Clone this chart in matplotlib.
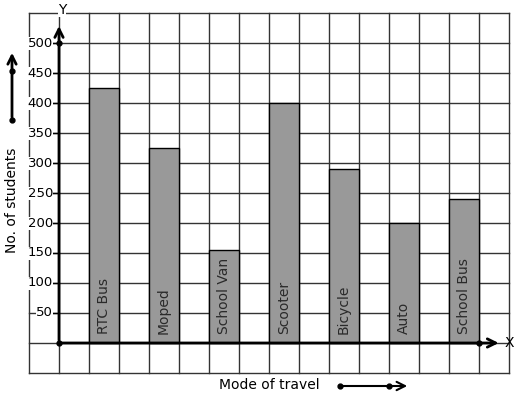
import matplotlib.pyplot as plt
import numpy as np

modes = ["RTC Bus", "Moped", "School Van", "Scooter", "Bicycle", "Auto", "School Bus"]
students = [425, 325, 155, 400, 290, 200, 240]
yticks = [50, 100, 150, 200, 250, 300, 350, 400, 450, 500]

W, H = 517, 399
fig = plt.figure(figsize=(W / 100, H / 100), dpi=100)
ax = fig.add_axes([0, 0, 1, 1])
ax.set_xlim(-59 / 30, (W - 59) / 30)
ax.set_ylim(-56 / 0.6, 343 / 0.6)
ax.axis("off")


def px(x, y):
    # pixel (top-left origin) -> figure fraction
    return (x / W, 1 - y / H)


# graph paper grid
for gx in range(-1, 16):
    ax.plot([gx, gx], [-50, 550], color="#333333", lw=1, zorder=1)
for gy in range(-50, 551, 50):
    ax.plot([-1, 15], [gy, gy], color="#333333", lw=1, zorder=1)

# bars
xpos = np.arange(len(modes)) * 2 + 1.5
ax.bar(xpos, students, width=1, color="#999999", edgecolor="black", lw=1, zorder=2)
for x, name in zip(xpos, modes):
    ax.text(x, 15, name, rotation=90, ha="center", va="bottom", fontsize=10,
            color="#2a2a2a", zorder=3)

# axes with arrows
ax.annotate("", xy=(0, 533), xytext=(0, 0),
            arrowprops=dict(arrowstyle="->", lw=2, color="black", mutation_scale=15), zorder=4)
ax.annotate("", xy=(14.75, 0), xytext=(0, 0),
            arrowprops=dict(arrowstyle="->", lw=2, color="black", mutation_scale=15), zorder=4)
ax.plot([0, 0, 14], [0, 500, 0], "o", color="black", ms=3.5, zorder=5)
ax.text(0.1, 555, "Y", ha="center", va="center", fontsize=10, zorder=5,
        bbox=dict(facecolor="white", edgecolor="none", pad=0))
ax.text(15.0, 0, "X", ha="center", va="center", fontsize=10, zorder=5)

# y tick labels
for t in yticks:
    ax.plot([-0.2, 0], [t, t], color="black", lw=1, zorder=4)
    ax.text(-0.2, t, str(t), ha="right", va="center", fontsize=9.5, zorder=4,
            bbox=dict(facecolor="white", edgecolor="none", pad=0))

# left label with arrow
fig.text(*px(12, 200), "No. of students", rotation=90, ha="center", va="center", fontsize=10)
ax.annotate("", xy=px(12, 50), xytext=px(12, 120), xycoords="figure fraction",
            textcoords="figure fraction",
            arrowprops=dict(arrowstyle="->", lw=2, color="black", mutation_scale=15))
for yy in (120, 71):
    fig.lines.append(plt.Line2D([px(12, yy)[0]], [px(12, yy)[1]], marker="o", ms=3.5,
                                color="black", transform=fig.transFigure))

# bottom label with arrow
fig.text(*px(269, 385), "Mode of travel", ha="center", va="center", fontsize=10)
ax.annotate("", xy=px(410, 386), xytext=px(340, 386), xycoords="figure fraction",
            textcoords="figure fraction",
            arrowprops=dict(arrowstyle="->", lw=1.5, color="black", mutation_scale=15))
for xx in (340, 389):
    fig.lines.append(plt.Line2D([px(xx, 386)[0]], [px(xx, 386)[1]], marker="o", ms=3.5,
                                color="black", transform=fig.transFigure))

fig.savefig("out.png", dpi=100)
